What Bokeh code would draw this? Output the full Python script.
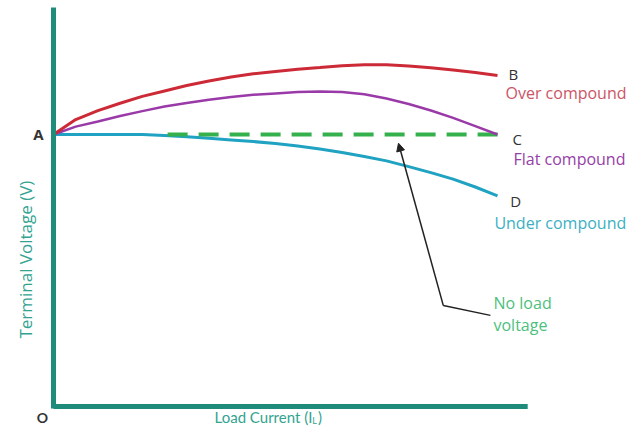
import numpy as np
from bokeh.plotting import figure
from bokeh.models import Range1d, Arrow, NormalHead
from bokeh.core.properties import value
from bokeh.embed import file_html
from bokeh.resources import INLINE

# ---------------- data ----------------
load_current = [0, 0.5, 1, 1.5, 2, 2.5, 3, 3.5, 4, 4.5, 5,
                5.5, 6, 6.5, 7, 7.5, 8, 8.5, 9, 9.5, 10]
over_compound = [100, 105.5, 108.8, 111.5, 114.0, 116.0, 118.0, 119.7, 121.1, 122.3, 123.2,
                 124.0, 124.6, 125.3, 125.6, 125.6, 125.2, 124.5, 123.7, 122.8, 121.7]
flat_compound = [100, 102.9, 104.8, 106.8, 108.6, 110.3, 111.6, 112.8, 113.8, 114.6, 115.1,
                 115.6, 115.8, 115.6, 114.8, 113.2, 111.2, 108.8, 106.1, 103.1, 100]
under_compound = [100, 100, 100, 100, 100, 99.6, 99.2, 98.6, 98.0, 97.4, 96.7,
                  95.8, 94.7, 93.4, 91.9, 90.3, 88.2, 86.0, 83.6, 80.7, 77.4]
no_load_x = [2.57, 10.05]
no_load_v = [100, 100]
x_axis_end = 10.68
y_axis_end = 146.7
pointer_x = [9.84, 8.78, 7.77]
pointer_y = [33.5, 37.1, 96.8]

FONT = value("Open Sans")
FONT2 = value("Lato")
AXIS_COL = "#1f8c7b"

p = figure(width=627, height=426, output_backend="svg", toolbar_location=None,
           x_range=Range1d(-1.1937, 12.928), y_range=Range1d(-7.35, 149.26),
           min_border=0, outline_line_color=None)
p.axis.visible = False
p.grid.visible = False
p.background_fill_color = "white"

# curves
p.line(load_current, under_compound, line_color="#20a2c2", line_width=3)
p.line(no_load_x, no_load_v, line_color="#34b04c", line_width=4, line_dash="20 11")
p.line(load_current, flat_compound, line_color="#9a3aa8", line_width=2.5)
p.line(load_current, over_compound, line_color="#cc2a36", line_width=3)

# axes
p.line([0, 0], [-0.7, y_axis_end], line_color=AXIS_COL, line_width=5)
p.line([0, x_axis_end], [0, 0], line_color=AXIS_COL, line_width=5)

# pointer arrow
p.line(pointer_x[:2], pointer_y[:2], line_color="#222222", line_width=1.5)
p.add_layout(Arrow(x_start=pointer_x[1], y_start=pointer_y[1], x_end=pointer_x[2], y_end=pointer_y[2],
                   line_color="#222222", line_width=1.5,
                   end=NormalHead(size=8, fill_color="#222222", line_color="#222222")))


def txt(x, y, s, color, size="16px", align="left", bold=False, angle=0.0, font=FONT):
    p.text(x=[x], y=[y], text=[s], text_color=color, text_font=font,
           text_font_size=size, text_align=align, text_baseline="middle",
           text_font_style="bold" if bold else "normal", angle=angle)


txt(-0.338, 100, "A", "#333333", "15px", "center", bold=True)
txt(-0.248, -4.04, "O", "#333333", "14px", "center", bold=True, font=FONT2)
txt(10.25, 122.1, "B", "#333333", "15px")
txt(10.18, 115.4, "Over compound", "#cc5566")
txt(10.34, 98.3, "C", "#333333", "15px")
txt(10.36, 90.9, "Flat compound", "#9540a6")
txt(10.29, 75.7, "D", "#333333", "15px")
txt(9.93, 67.6, "Under compound", "#3cb0c2")
txt(9.91, 38.2, "No load", "#4cbf7e")
txt(9.91, 29.8, "voltage", "#4cbf7e")
txt(-0.63, 54.0, "Terminal Voltage (V)", "#33a391", "17px", "center", angle=np.pi / 2)
txt(5.83, -4.04, "Load Current (I", "#33a391", "15px", "right", font=FONT2)
txt(5.83, -5.2, "L", "#33a391", "9px", "left", font=FONT2)
txt(5.96, -4.04, ")", "#33a391", "15px", "left", font=FONT2)

open("out.html", "w").write(file_html(p, INLINE))
